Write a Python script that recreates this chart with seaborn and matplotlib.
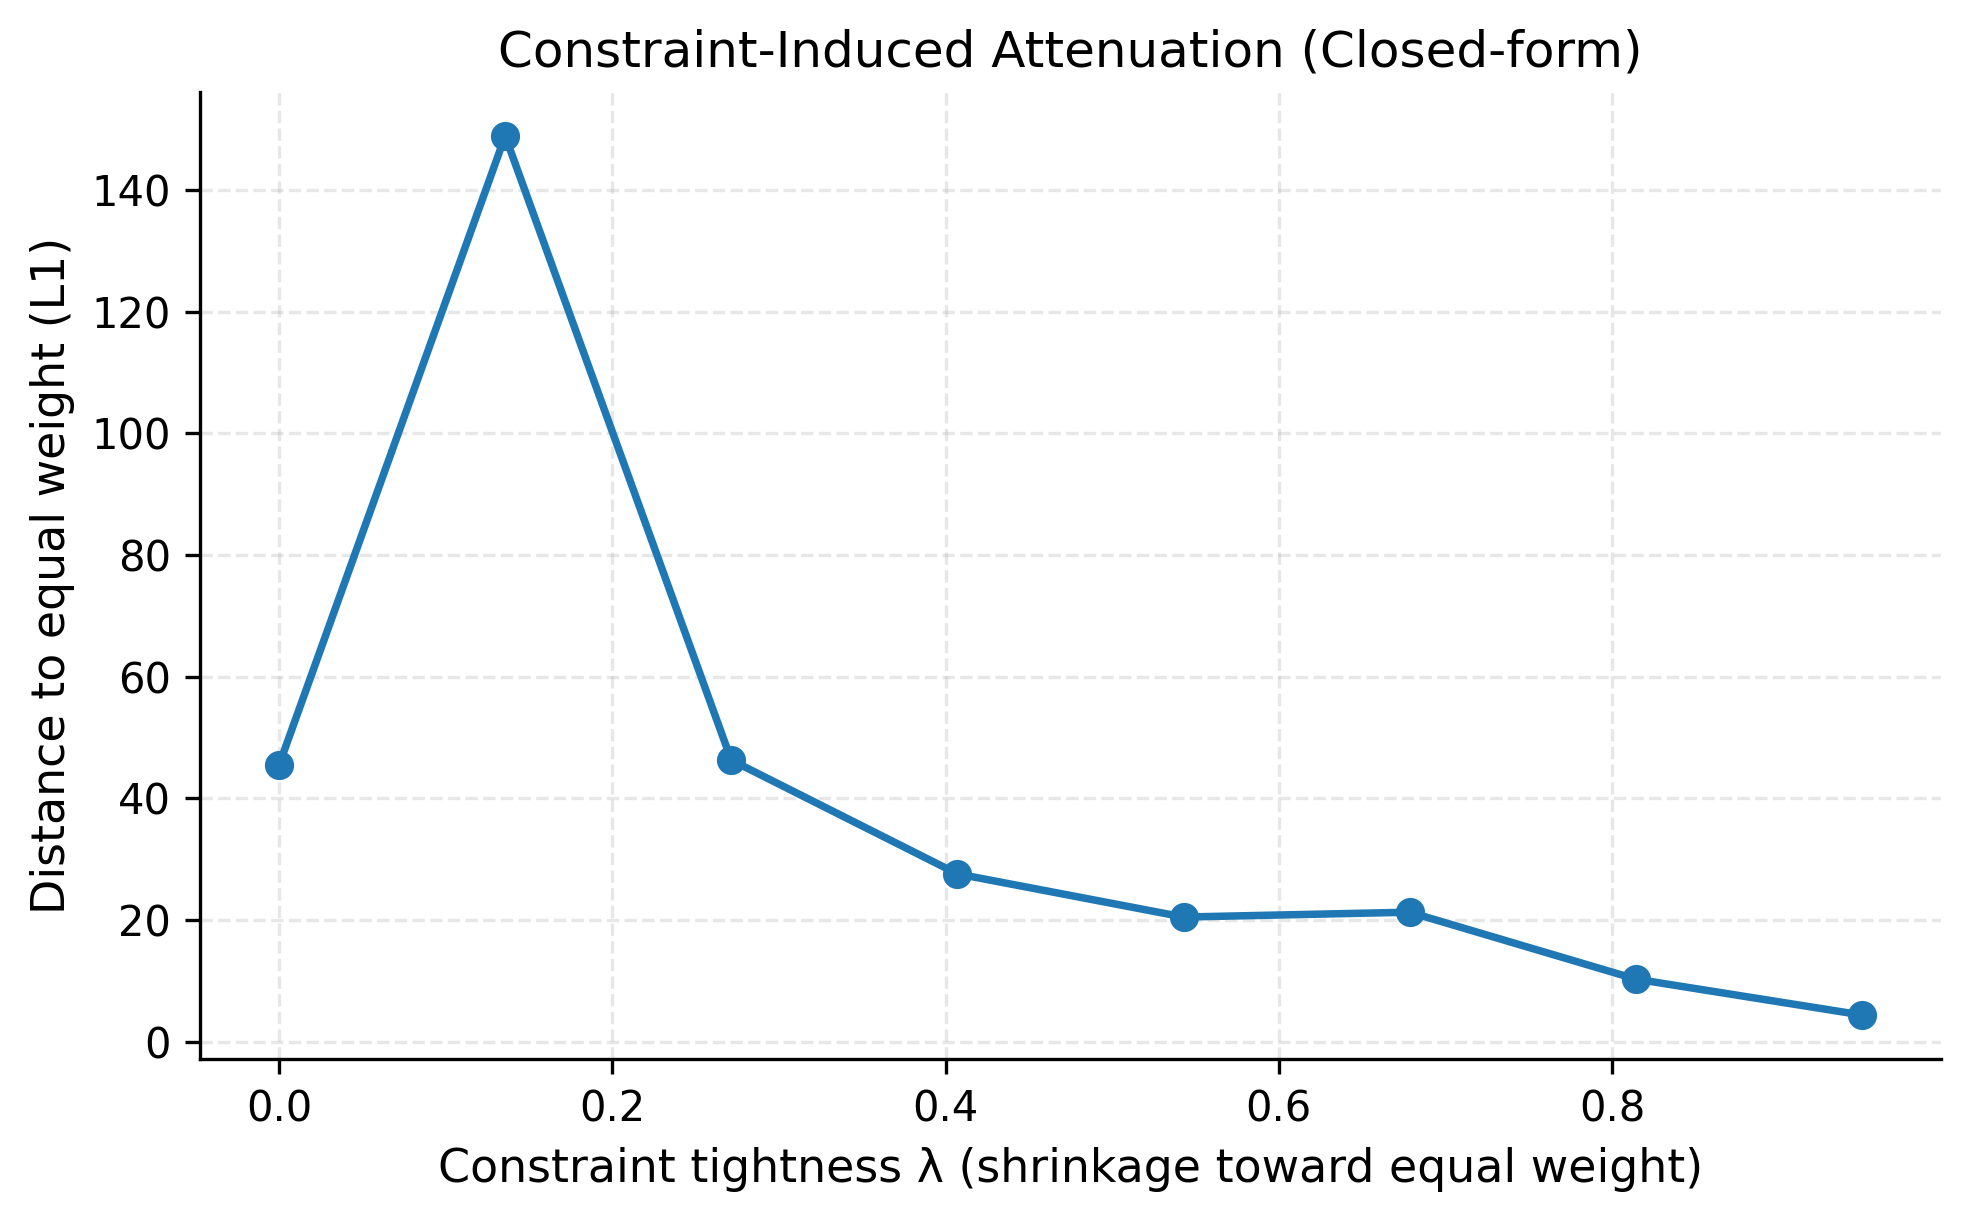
import numpy as np
import pandas as pd
import matplotlib
matplotlib.use("Agg")
import matplotlib.pyplot as plt
import seaborn as sns

lam = [0.0, 0.1357, 0.2714, 0.4071, 0.5429, 0.6786, 0.8143, 0.95]
dist = [45.5, 148.9, 46.3, 27.6, 20.5, 21.3, 10.3, 4.4]

sns.set_style("ticks", rc={
    "text.color": "black", "axes.labelcolor": "black", "axes.edgecolor": "black",
    "xtick.color": "black", "ytick.color": "black",
})
plt.rcParams['font.family'] = ['DejaVu Sans']

df = pd.DataFrame({"lam": lam, "dist": dist})

fig = plt.figure(figsize=(1970/300, 1220/300), dpi=300)
ax = fig.add_axes([0.1015, 0.132, 0.9853 - 0.1015, 0.9246 - 0.132])
sns.lineplot(data=df, x="lam", y="dist", ax=ax, color="#1f77b4", marker="o",
             markersize=7, markeredgecolor="#1f77b4", markeredgewidth=0, linewidth=1.8)
ax.grid(True, linestyle="--", color="#b0b0b0", alpha=0.3, linewidth=0.8)
ax.set_yticks([0, 20, 40, 60, 80, 100, 120, 140])
ax.set_xticks([0.0, 0.2, 0.4, 0.6, 0.8])
ax.set_title("Constraint-Induced Attenuation (Closed-form)", fontsize=12)
ax.set_xlabel("Constraint tightness λ (shrinkage toward equal weight)", fontsize=11)
ax.set_ylabel("Distance to equal weight (L1)", fontsize=11)
ax.tick_params(labelsize=10, width=0.8, length=3.5)
sns.despine(ax=ax)
fig.savefig("out.png", dpi=300)
